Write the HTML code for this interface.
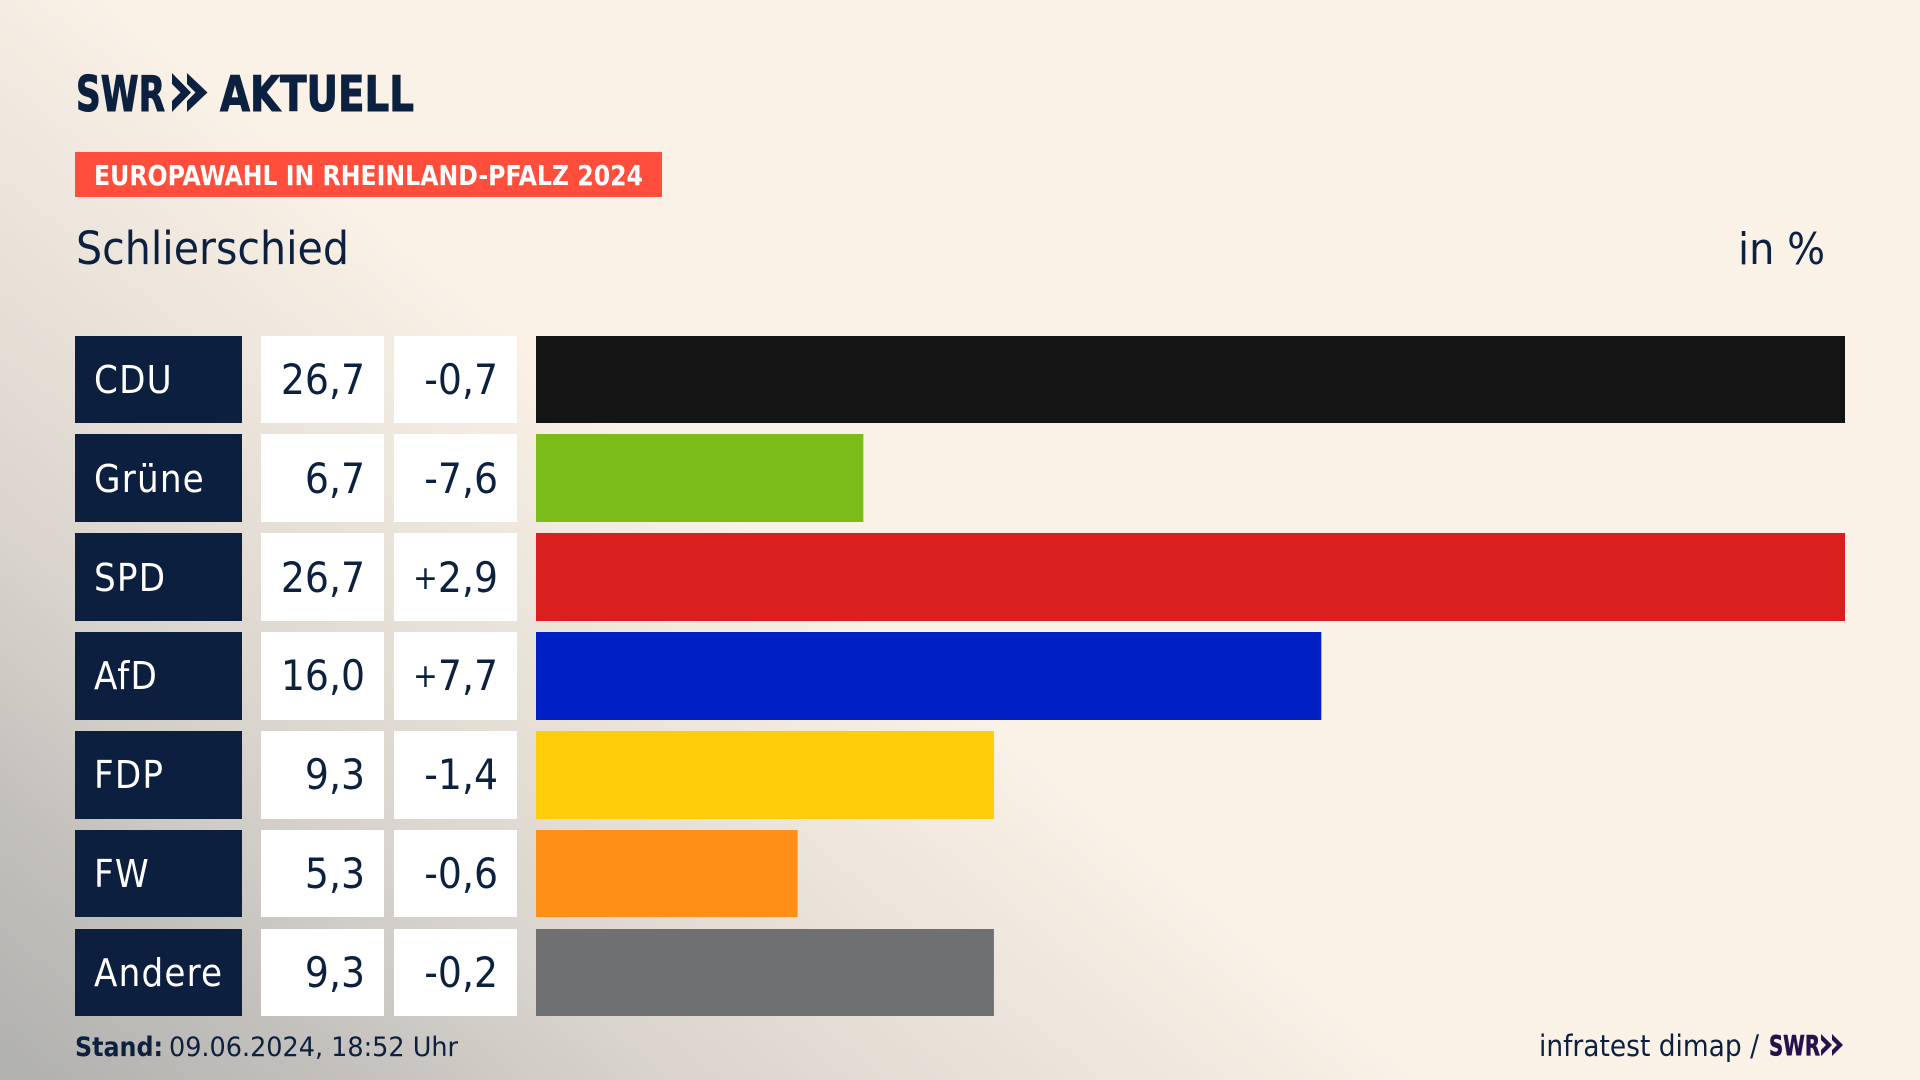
<!DOCTYPE html>
<html lang="de">
<head>
<meta charset="utf-8">
<title>Europawahl in Rheinland-Pfalz 2024 – Schlierschied</title>
<style>
html,body{margin:0;padding:0;width:1920px;height:1080px;overflow:hidden;background:#faf1e7}
#stage{position:absolute;left:0;top:0;width:1920px;height:1080px;background:linear-gradient(39.3deg,#b0b0ae 0%,#c3c0bc 10.5%,#d8d3cc 20.4%,#e6dfd6 29.4%,#f5ede2 40.7%,#faf1e7 44%,#faf1e7 100%)}
svg{position:absolute;left:0;top:0}
text{font-family:"DejaVu Sans","Liberation Sans",sans-serif;font-stretch:condensed;fill:#0c2040}
</style>
</head>
<body>
<div id="stage">
<svg id="chart" width="1920" height="1080" viewBox="0 0 1920 1080">
  <g>
    <text x="76" y="111" font-size="49" font-weight="700" stroke="#0c2040" stroke-width="1" textLength="89" lengthAdjust="spacingAndGlyphs">SWR</text>
    <polygon points="172,73 191,92.5 172,112 172,101 180.5,92.5 172,84" fill="#0c2040"/>
    <polygon points="187,73 207.5,92.5 187,112 187,101 195.5,92.5 187,84" fill="#0c2040"/>
    <text x="220" y="111" font-size="49" font-weight="700" stroke="#0c2040" stroke-width="1" textLength="194" lengthAdjust="spacingAndGlyphs">AKTUELL</text>
  </g>
  <rect x="75" y="152" width="587" height="45" fill="#ff4f3c"/>
  <text x="94" y="185" font-size="28" font-weight="700" style="fill:#fff" textLength="549" lengthAdjust="spacingAndGlyphs">EUROPAWAHL IN RHEINLAND-PFALZ 2024</text>
  <text x="76" y="264" font-size="45" textLength="273" lengthAdjust="spacingAndGlyphs">Schlierschied</text>
  <text x="1738" y="264" font-size="44" textLength="87" lengthAdjust="spacingAndGlyphs">in %</text>
  <g id="rows"></g>
  <text x="75" y="1056" font-size="27" font-weight="700" textLength="88" lengthAdjust="spacingAndGlyphs">Stand:</text>
  <text x="169" y="1056" font-size="27" textLength="289" lengthAdjust="spacingAndGlyphs">09.06.2024, 18:52 Uhr</text>
  <text x="1539" y="1056" font-size="29" textLength="220" lengthAdjust="spacingAndGlyphs">infratest dimap /</text>
  <g>
    <text x="1769" y="1055" font-size="28" font-weight="700" style="fill:#24134a" stroke="#24134a" stroke-width="0.6" textLength="51" lengthAdjust="spacingAndGlyphs">SWR</text>
    <polygon points="1821,1034 1832,1045 1821,1056 1821,1050 1826,1045 1821,1040" fill="#24134a"/>
    <polygon points="1832,1034 1843,1045 1832,1056 1832,1050 1837,1045 1832,1040" fill="#24134a"/>
  </g>
</svg>
</div>
<script>
const parties = ["CDU", "Grüne", "SPD", "AfD", "FDP", "FW", "Andere"];
const shares = [26.67, 6.67, 26.67, 16.0, 9.33, 5.33, 9.33];
const changes = [-0.7, -7.6, 2.9, 7.7, -1.4, -0.6, -0.2];

const partyColors = {
  "CDU": "#141414", "Grüne": "#7bbb1a", "SPD": "#d9201e", "AfD": "#0020c4",
  "FDP": "#ffcd0a", "FW": "#ff8f17", "Andere": "#6f7072"
};
const NS = "http://www.w3.org/2000/svg";
const SCALE_MAX = 26.67;
const BAR_LEFT = 536, BAR_MAX_WIDTH = 1309;
const ROW_TOP = 336, ROW_STEP = 98.84, ROW_EXTENT = 87.2;

function xScale(v) { return BAR_MAX_WIDTH * v / SCALE_MAX; }
function yTop(i) { return Math.floor(ROW_TOP + i * ROW_STEP); }
function yBottom(i) { return Math.round(ROW_TOP + i * ROW_STEP + ROW_EXTENT); }
function yText(i) { return Math.round(ROW_TOP + i * ROW_STEP - 0.1); }
function fmtShare(v) { return v.toFixed(1).replace(".", ","); }
function fmtMagnitude(v) { return v.toFixed(1).replace(".", ","); }

const rowsGroup = document.getElementById("rows");

function makeRect(x, y, w, h, fill) {
  const r = document.createElementNS(NS, "rect");
  r.setAttribute("x", x);
  r.setAttribute("y", y);
  r.setAttribute("width", w);
  r.setAttribute("height", h);
  r.setAttribute("fill", fill);
  return r;
}
function makeText(x, y, size, anchor, fill, content) {
  const t = document.createElementNS(NS, "text");
  t.setAttribute("x", x);
  t.setAttribute("y", y);
  t.setAttribute("font-size", size);
  t.setAttribute("text-anchor", anchor);
  t.style.fill = fill;
  t.textContent = content;
  return t;
}
function fillChange(t, v) {
  if (v > 0) {
    const sign = document.createElementNS(NS, "tspan");
    sign.setAttribute("font-size", 33);
    sign.setAttribute("dy", -3);
    sign.textContent = "+";
    const rest = document.createElementNS(NS, "tspan");
    rest.setAttribute("dy", 3);
    rest.textContent = fmtMagnitude(v);
    t.textContent = "";
    t.appendChild(sign);
    t.appendChild(rest);
  } else {
    t.textContent = fmtMagnitude(v);
  }
}

parties.forEach(function (party, i) {
  const y = yTop(i);
  const h = yBottom(i) - y;
  const ty = yText(i);
  const slug = party.toLowerCase().replace("ü", "ue");

  const g = document.createElementNS(NS, "g");
  
  

  const labelBox = makeRect(75, y, 167, h, "#0c1f3f");
  
  
  g.appendChild(labelBox);

  const label = makeText(94, ty + 57, 38, "start", "#ffffff", party);
  label.setAttribute("letter-spacing", "1.2");
  
  
  g.appendChild(label);

  const shareBox = makeRect(261, y, 123, h, "#ffffff");
  
  
  g.appendChild(shareBox);

  const shareText = makeText(365, ty + 58, 42, "end", "#0c2040", fmtShare(shares[i]));
  
  
  g.appendChild(shareText);

  const changeBox = makeRect(394, y, 123, h, "#ffffff");
  
  
  g.appendChild(changeBox);

  const changeText = makeText(498, ty + 58, 42, "end", "#0c2040", "");
  fillChange(changeText, changes[i]);
  
  
  g.appendChild(changeText);

  const bar = makeRect(BAR_LEFT, y, xScale(shares[i]), h, partyColors[party]);
  
  
  g.appendChild(bar);

  rowsGroup.appendChild(g);
});
</script>
</body>
</html>
